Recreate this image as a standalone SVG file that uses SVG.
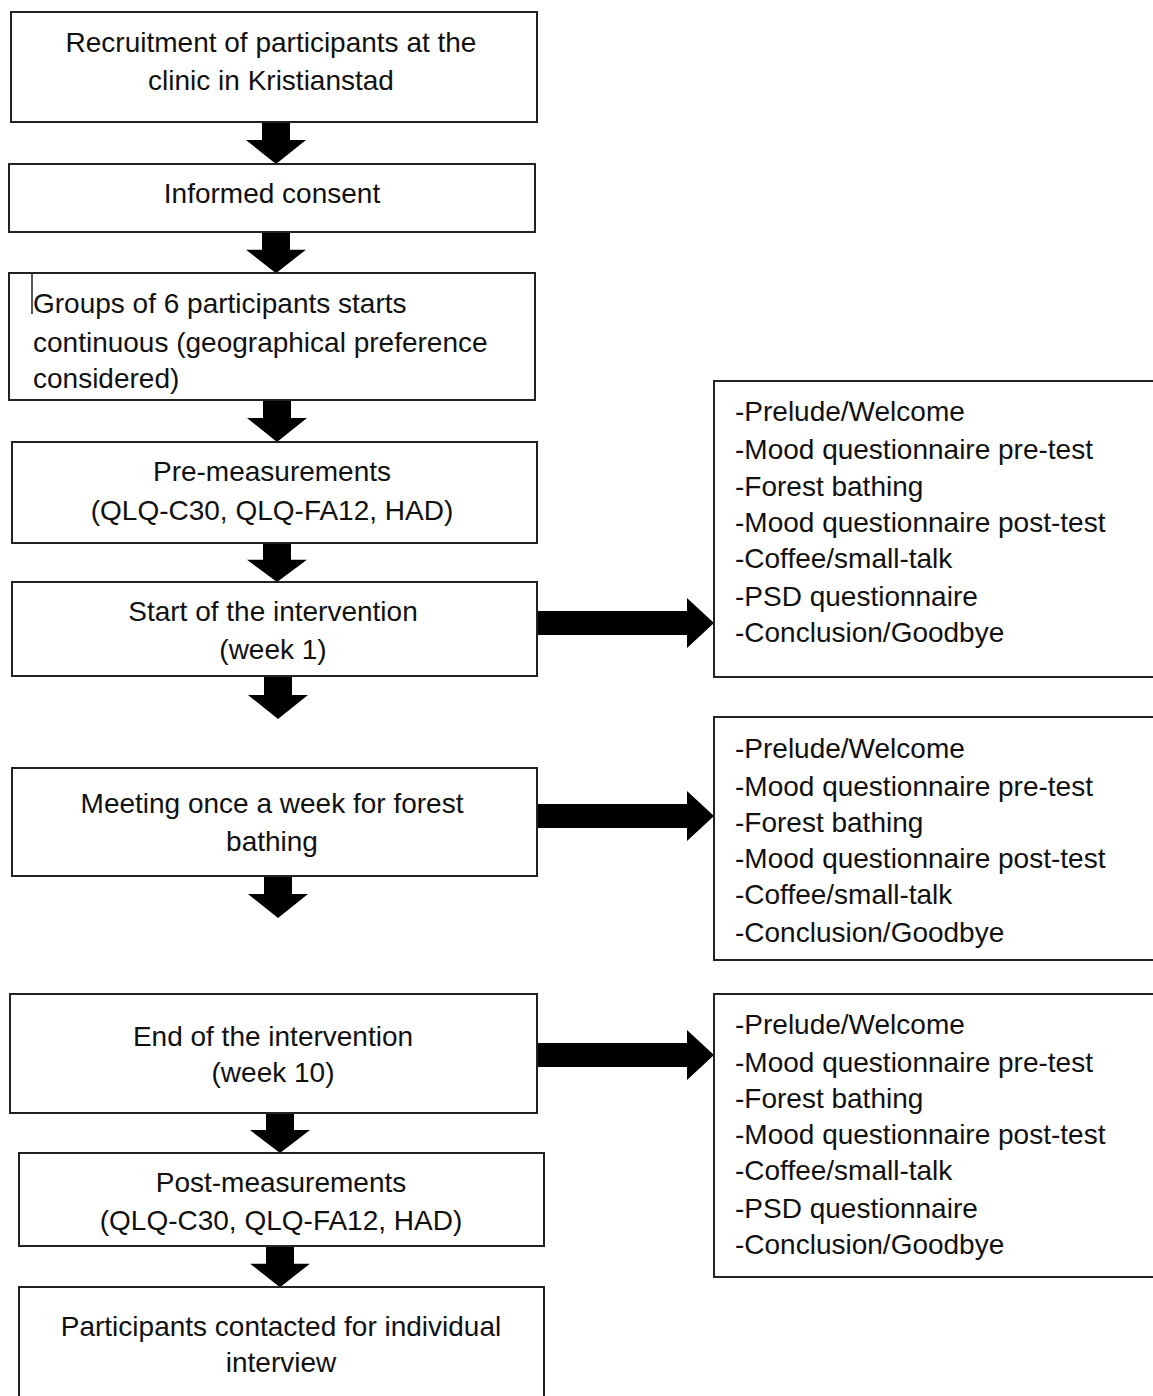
<svg xmlns="http://www.w3.org/2000/svg" width="1153" height="1396" viewBox="0 0 1153 1396">
<style>
.box{fill:#fff;stroke:#222;stroke-width:2}
.t{font-family:"Liberation Sans",Arial,sans-serif;font-size:28px;fill:#111}
.c{text-anchor:middle}
.arr{fill:#000}
</style>
<defs>
<path id="down" d="M-14,0 H14 V18 H30 L0,42 L-30,18 H-14 Z"/>
</defs>
<rect width="1153" height="1396" fill="#fff"/>
<g id="connectors">
<use href="#down" class="arr" transform="translate(276,122)"/>
<use href="#down" class="arr" transform="translate(276,232) scale(1,0.98)"/>
<use href="#down" class="arr" transform="translate(277,400)"/>
<use href="#down" class="arr" transform="translate(277,543) scale(1,0.93)"/>
<use href="#down" class="arr" transform="translate(278,677)"/>
<use href="#down" class="arr" transform="translate(278,876)"/>
<use href="#down" class="arr" transform="translate(280,1113) scale(1,0.95)"/>
<use href="#down" class="arr" transform="translate(280,1246) scale(1,0.98)"/>
<path class="arr" d="M537,611 H687 V598 L714,623 L687,648 V635 H537 Z"/>
<path class="arr" d="M537,804 H687 V791 L714,816 L687,841 V828 H537 Z"/>
<path class="arr" d="M537,1043 H687 V1030 L714,1055 L687,1080 V1067 H537 Z"/>
</g>
<g id="n1"><rect class="box" x="11" y="12" width="526" height="110"/>
<text class="t c" x="271" y="52">Recruitment of participants at the</text>
<text class="t c" x="271" y="90">clinic in Kristianstad</text></g>
<g id="n2"><rect class="box" x="9" y="164" width="526" height="68"/>
<text class="t c" x="272" y="203">Informed consent</text></g>
<g id="n3"><rect class="box" x="9" y="273" width="526" height="127"/>
<line x1="32" y1="274" x2="32" y2="314" stroke="#222" stroke-width="1.5"/>
<text class="t" x="33" y="313">Groups of 6 participants starts</text>
<text class="t" x="33" y="352">continuous (geographical preference</text>
<text class="t" x="33" y="388">considered)</text></g>
<g id="n4"><rect class="box" x="12" y="442" width="525" height="101"/>
<text class="t c" x="272" y="481">Pre-measurements</text>
<text class="t c" x="272" y="520">(QLQ-C30, QLQ-FA12, HAD)</text></g>
<g id="n5"><rect class="box" x="12" y="582" width="525" height="94"/>
<text class="t c" x="273" y="621">Start of the intervention</text>
<text class="t c" x="273" y="659">(week 1)</text></g>
<g id="n6"><rect class="box" x="12" y="768" width="525" height="108"/>
<text class="t c" x="272" y="813">Meeting once a week for forest</text>
<text class="t c" x="272" y="851">bathing</text></g>
<g id="n7"><rect class="box" x="10" y="994" width="527" height="119"/>
<text class="t c" x="273" y="1046">End of the intervention</text>
<text class="t c" x="273" y="1082">(week 10)</text></g>
<g id="n8"><rect class="box" x="19" y="1153" width="525" height="93"/>
<text class="t c" x="281" y="1192">Post-measurements</text>
<text class="t c" x="281" y="1230">(QLQ-C30, QLQ-FA12, HAD)</text></g>
<g id="n9"><rect class="box" x="19" y="1287" width="525" height="120"/>
<text class="t c" x="281" y="1336">Participants contacted for individual</text>
<text class="t c" x="281" y="1372">interview</text></g>
<g id="s1"><rect class="box" x="714" y="381" width="450" height="296"/>
<text class="t" x="735" y="421">-Prelude/Welcome</text>
<text class="t" x="735" y="459">-Mood questionnaire pre-test</text>
<text class="t" x="735" y="496">-Forest bathing</text>
<text class="t" x="735" y="532">-Mood questionnaire post-test</text>
<text class="t" x="735" y="568">-Coffee/small-talk</text>
<text class="t" x="735" y="606">-PSD questionnaire</text>
<text class="t" x="735" y="642">-Conclusion/Goodbye</text></g>
<g id="s2"><rect class="box" x="714" y="717" width="450" height="243"/>
<text class="t" x="735" y="758">-Prelude/Welcome</text>
<text class="t" x="735" y="796">-Mood questionnaire pre-test</text>
<text class="t" x="735" y="832">-Forest bathing</text>
<text class="t" x="735" y="868">-Mood questionnaire post-test</text>
<text class="t" x="735" y="904">-Coffee/small-talk</text>
<text class="t" x="735" y="942">-Conclusion/Goodbye</text></g>
<g id="s3"><rect class="box" x="714" y="994" width="450" height="283"/>
<text class="t" x="735" y="1034">-Prelude/Welcome</text>
<text class="t" x="735" y="1072">-Mood questionnaire pre-test</text>
<text class="t" x="735" y="1108">-Forest bathing</text>
<text class="t" x="735" y="1144">-Mood questionnaire post-test</text>
<text class="t" x="735" y="1180">-Coffee/small-talk</text>
<text class="t" x="735" y="1218">-PSD questionnaire</text>
<text class="t" x="735" y="1254">-Conclusion/Goodbye</text></g>
</svg>
